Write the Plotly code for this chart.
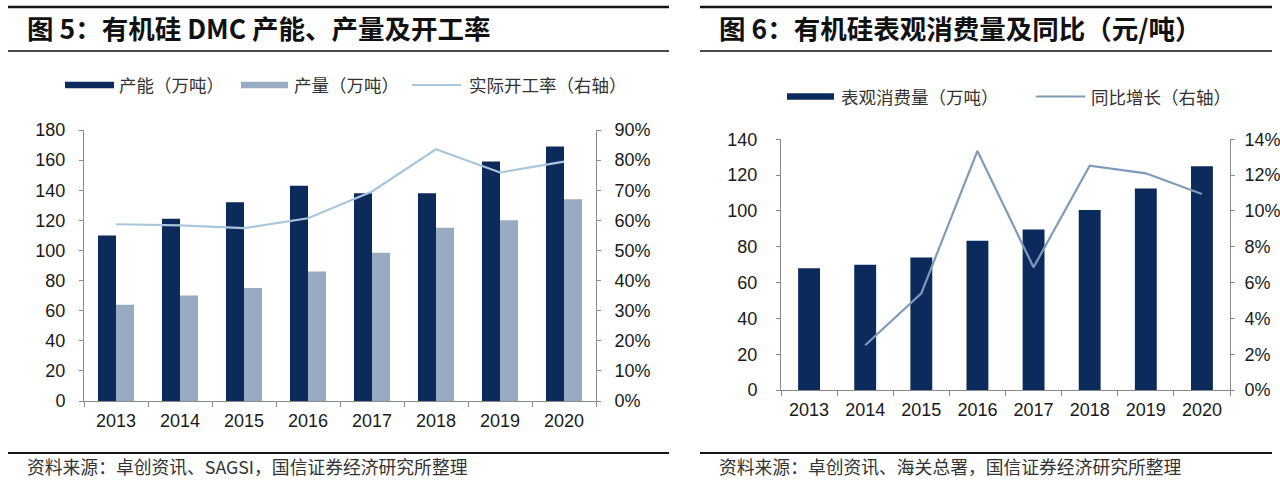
import plotly.graph_objects as go

# ---------------- data ----------------
years = ["2013", "2014", "2015", "2016", "2017", "2018", "2019", "2020"]
capacity = [110, 121, 132, 143, 138, 138, 159, 169]           # 产能（万吨）
production = [64, 70, 75, 86, 98.5, 115, 120, 134]             # 产量（万吨）
utilization = [0.587, 0.583, 0.574, 0.607, 0.696, 0.836, 0.759, 0.795]  # 实际开工率
consumption = [68, 70, 74, 83.4, 89.6, 100.5, 112.5, 125]     # 表观消费量（万吨）
yoy = [None, 0.025, 0.054, 0.1335, 0.0685, 0.1253, 0.121, 0.1095]  # 同比增长

left_title = "图 5：有机硅 DMC 产能、产量及开工率"
right_title = "图 6：有机硅表观消费量及同比（元/吨）"
left_source = "资料来源：卓创资讯、SAGSI，国信证券经济研究所整理"
right_source = "资料来源：卓创资讯、海关总署，国信证券经济研究所整理"

# ---------------- style ----------------
W, H = 1280, 492
DARK = "#0c2a5c"
LIGHT = "#99abc0"
LINE_L = "#a9c7dc"
LINE_R = "#7f9bba"
AXIS = "#8a8a8a"
TXT = "#1a1a1a"
TICKFONT = dict(family="Liberation Sans, Arial, sans-serif", size=18, color=TXT)
CJK = "Noto Sans CJK SC, Noto Sans, sans-serif"


def px(x):
    return x / W


def py(y):
    return 1 - y / H


fig = go.Figure()
fig.add_trace(go.Bar(x=years, y=capacity, name="产能（万吨）", marker=dict(color=DARK, line=dict(width=0)),
                     xaxis="x", yaxis="y"))
fig.add_trace(go.Bar(x=years, y=production, name="产量（万吨）", marker=dict(color=LIGHT, line=dict(width=0)),
                     xaxis="x", yaxis="y"))
fig.add_trace(go.Scatter(x=years, y=utilization, name="实际开工率（右轴）", mode="lines",
                         line=dict(color=LINE_L, width=2.2), xaxis="x", yaxis="y2"))
fig.add_trace(go.Bar(x=years, y=consumption, name="表观消费量（万吨）", width=0.39,
                     marker=dict(color=DARK, line=dict(width=0)), xaxis="x2", yaxis="y3"))
fig.add_trace(go.Scatter(x=years, y=yoy, name="同比增长（右轴）", mode="lines",
                         line=dict(color=LINE_R, width=2.2), xaxis="x2", yaxis="y4"))

common_y = dict(showline=True, linecolor=AXIS, linewidth=1, ticks="outside", ticklen=4,
                tickcolor=AXIS, showgrid=False, zeroline=False, tickfont=TICKFONT, fixedrange=True,
                automargin=False)
common_x = dict(type="category", showline=True, linecolor=AXIS, linewidth=1, ticks="outside",
                tickson="boundaries", ticklen=5, tickcolor=AXIS, showgrid=False, tickfont=TICKFONT,
                ticklabelstandoff=3, automargin=False, fixedrange=True)

fig.update_layout(
    width=W, height=H, margin=dict(l=0, r=0, t=0, b=0, pad=0, autoexpand=False),
    paper_bgcolor="white", plot_bgcolor="white",
    showlegend=False, barmode="group", bargap=0.4375, bargroupgap=0,
    xaxis=dict(domain=[px(84), px(596)], anchor="y", **common_x),
    yaxis=dict(domain=[py(401), py(130)], anchor="x", range=[0, 180], dtick=20,
               ticklabelstandoff=10, **common_y),
    yaxis2=dict(overlaying="y", anchor="x", side="right", range=[0, 0.9], dtick=0.1,
                tickformat=".0%", ticklabelstandoff=10, **common_y),
    xaxis2=dict(domain=[px(781), px(1230)], anchor="y3", **common_x),
    yaxis3=dict(domain=[py(390), py(139.3)], anchor="x2", range=[0, 140], dtick=20,
                ticklabelstandoff=15, **common_y),
    yaxis4=dict(overlaying="y3", anchor="x2", side="right", range=[0, 0.14], dtick=0.02,
                tickformat=".0%", ticklabelstandoff=6, **common_y),
)

shapes = []
annos = []

# header / footer rules
for (x0, x1) in [(8, 669), (700, 1272)]:
    shapes.append(dict(type="line", xref="paper", yref="paper", x0=px(x0), x1=px(x1), y0=py(7), y1=py(7),
                       line=dict(color="#151515", width=2.5)))
    shapes.append(dict(type="line", xref="paper", yref="paper", x0=px(x0), x1=px(x1), y0=py(51), y1=py(51),
                       line=dict(color="#4a4a4a", width=2)))
    shapes.append(dict(type="line", xref="paper", yref="paper", x0=px(x0), x1=px(x1), y0=py(453), y1=py(453),
                       line=dict(color="#151515", width=2.2)))

# titles
for x, t in [(25, left_title), (717, right_title)]:
    annos.append(dict(xref="paper", yref="paper", x=px(x), y=py(27), xanchor="left", yanchor="middle",
                      text="<b>" + t + "</b>", showarrow=False,
                      font=dict(family=CJK, size=26.5, color="#111111")))

# sources
for x, t in [(25, left_source), (717, right_source)]:
    annos.append(dict(xref="paper", yref="paper", x=px(x), y=py(466), xanchor="left", yanchor="middle",
                      text=t, showarrow=False, font=dict(family=CJK, size=17.8, color="#333333")))

# custom legends
LEG_FONT = dict(family=CJK, size=17.5, color="#333333")


def leg_rect(x0, x1, yc, color):
    shapes.append(dict(type="rect", xref="paper", yref="paper", x0=px(x0), x1=px(x1),
                       y0=py(yc + 3.3), y1=py(yc - 3.3), fillcolor=color, line=dict(width=0)))


def leg_line(x0, x1, yc, color):
    shapes.append(dict(type="line", xref="paper", yref="paper", x0=px(x0), x1=px(x1),
                       y0=py(yc), y1=py(yc), line=dict(color=color, width=2.2)))


def leg_text(x, yc, t):
    annos.append(dict(xref="paper", yref="paper", x=px(x), y=py(yc), xanchor="left", yanchor="middle",
                      text=t, showarrow=False, font=LEG_FONT))


leg_rect(65, 114, 85, DARK)
leg_text(117, 85, fig.data[0].name)
leg_rect(241, 288, 85, LIGHT)
leg_text(292, 85, fig.data[1].name)
leg_line(412, 461, 85, LINE_L)
leg_text(467, 85, fig.data[2].name)

leg_rect(787, 834, 96.5, DARK)
leg_text(839, 96.5, fig.data[3].name)
leg_line(1036, 1085, 96.5, LINE_R)
leg_text(1089, 96.5, fig.data[4].name)

fig.update_layout(shapes=shapes, annotations=annos)
fig.write_html(
    "out.html",
    config={"displayModeBar": False, "staticPlot": False},
    post_script="document.body.style.margin='0';document.body.style.padding='0';"
                "document.documentElement.style.overflow='hidden';document.body.style.overflow='hidden';",
)
